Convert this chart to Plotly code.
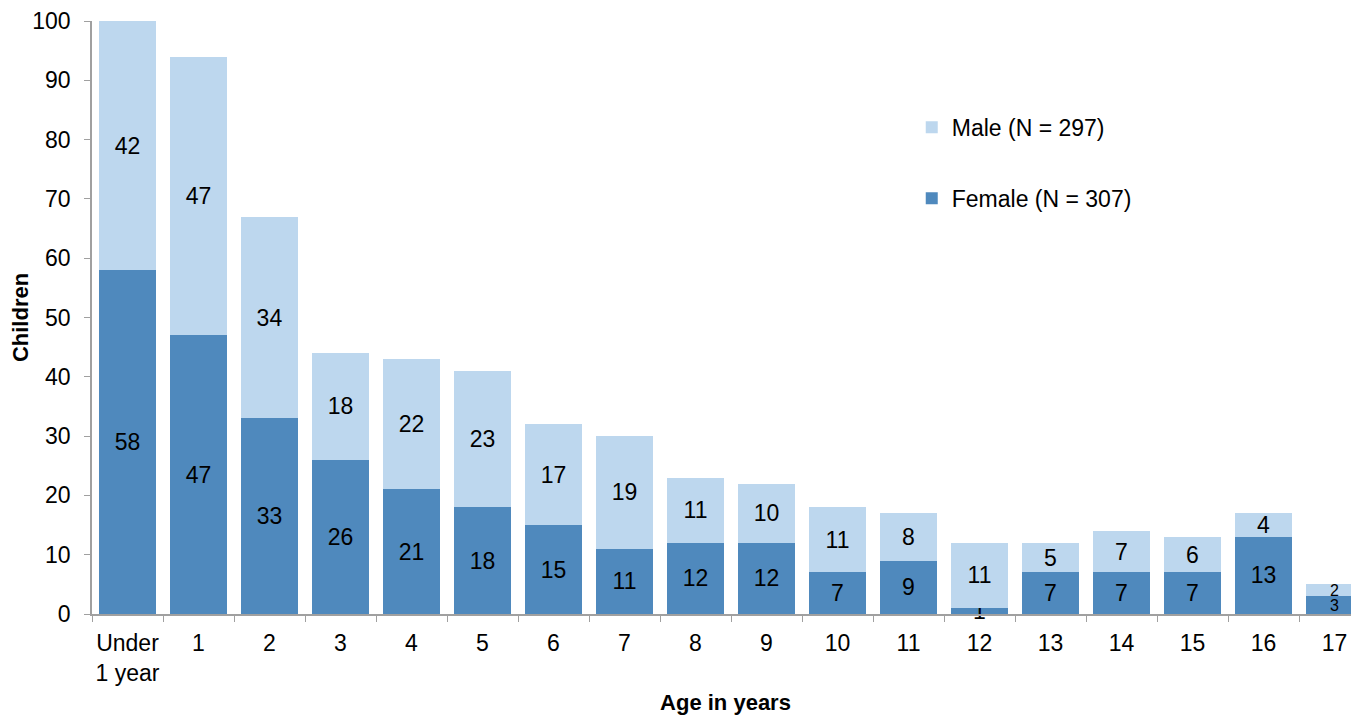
import plotly.graph_objects as go

categories = ["Under<br>1 year", "1", "2", "3", "4", "5", "6", "7", "8", "9",
              "10", "11", "12", "13", "14", "15", "16", "17"]
female = [58, 47, 33, 26, 21, 18, 15, 11, 12, 12, 7, 9, 1, 7, 7, 7, 13, 3]
male = [42, 47, 34, 18, 22, 23, 17, 19, 11, 10, 11, 8, 11, 5, 7, 6, 4, 2]
y_ticks = list(range(0, 101, 10))

FONT = "Liberation Sans, Arial, sans-serif"
DARK = "#4F89BD"
LIGHT = "#BDD7EE"
label_sizes = [23] * (len(categories) - 1) + [16]

fig = go.Figure()
fig.add_trace(go.Bar(
    x=categories, y=female, name="Female (N = 307)",
    marker=dict(color=DARK, line=dict(width=0)),
    text=female, textposition="inside", insidetextanchor="middle",
    constraintext="none", textangle=0, cliponaxis=False,
    textfont=dict(family=FONT, size=label_sizes, color="black"),
    legendgroup="f", legendrank=2,
))
fig.add_trace(go.Bar(
    x=categories, y=male, name="Male (N = 297)",
    marker=dict(color=LIGHT, line=dict(width=0)),
    text=male, textposition="inside", insidetextanchor="middle",
    constraintext="none", textangle=0, cliponaxis=False,
    textfont=dict(family=FONT, size=label_sizes, color="black"),
    legendgroup="m", legendrank=1,
))

fig.update_layout(
    width=1351, height=707,
    barmode="stack", bargap=0.2,
    plot_bgcolor="white", paper_bgcolor="white",
    margin=dict(l=84, r=0, t=13, b=101, autoexpand=False),
    font=dict(family=FONT, size=23, color="black"),
    showlegend=True,
    legend=dict(x=0.647, y=0.857, xanchor="left", yanchor="top",
                traceorder="grouped", tracegroupgap=38,
                font=dict(family=FONT, size=23, color="black"),
                bgcolor="rgba(0,0,0,0)"),
    xaxis=dict(
        range=[-0.5, 17.345], tickson="boundaries", ticks="outside",
        ticklen=6, tickcolor="#A0A0A0", showline=True, linecolor="#A0A0A0",
        linewidth=1.5, showgrid=False, tickfont=dict(size=23), tickangle=0,
        ticklabelstandoff=8, automargin=False,
        title=dict(text="<b>Age in years</b>", font=dict(size=22), standoff=17),
    ),
    yaxis=dict(
        range=[0, 100], tickvals=y_ticks, ticks="outside", ticklen=6,
        tickcolor="#A0A0A0", showline=True, linecolor="#A0A0A0", linewidth=1.5,
        showgrid=False, zeroline=False, tickfont=dict(size=23),
        ticklabelstandoff=9, automargin=False,
        title=dict(text="<b>Children</b>", font=dict(size=22), standoff=2),
    ),
)

fig.write_html("out.html")
